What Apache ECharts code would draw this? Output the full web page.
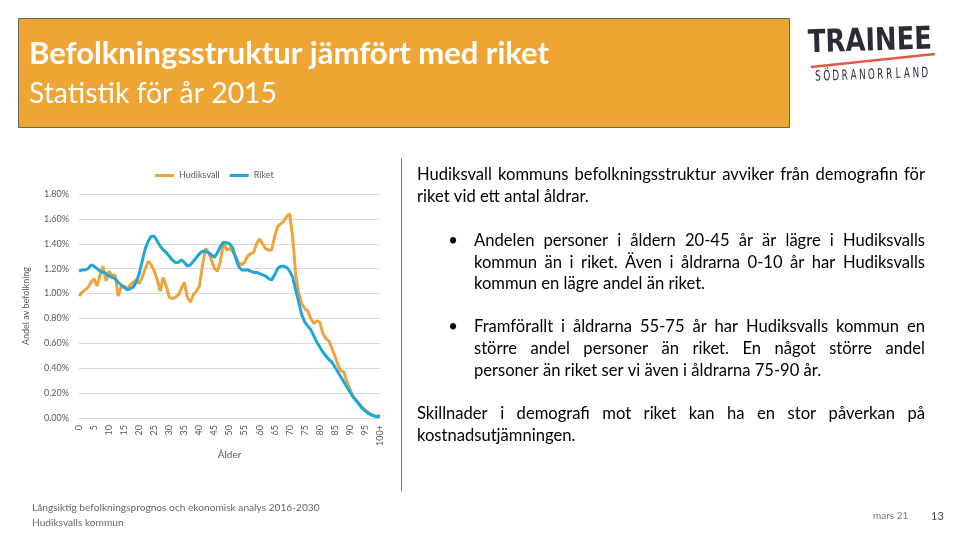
<!DOCTYPE html>
<html><head><meta charset="utf-8">
<script src="https://cdn.jsdelivr.net/npm/echarts@6/dist/echarts.min.js"></script>
<style>html,body{margin:0;padding:0;background:#fff}#c{width:960px;height:540px}</style>
</head><body><div id="c"></div>
<script>
const ages = ['0','1','2','3','4','5','6','7','8','9','10','11','12','13','14','15','16','17','18','19','20','21','22','23','24','25','26','27','28','29','30','31','32','33','34','35','36','37','38','39','40','41','42','43','44','45','46','47','48','49','50','51','52','53','54','55','56','57','58','59','60','61','62','63','64','65','66','67','68','69','70','71','72','73','74','75','76','77','78','79','80','81','82','83','84','85','86','87','88','89','90','91','92','93','94','95','96','97','98','99','100+'];
const hudiksvall = [0.98,1.01,1.03,1.05,1.09,1.12,1.06,1.15,1.22,1.10,
1.18,1.14,1.15,0.98,1.05,1.06,1.04,1.07,1.09,1.11,
1.08,1.13,1.20,1.26,1.23,1.18,1.11,1.02,1.13,1.06,
0.97,0.96,0.97,0.99,1.04,1.09,0.97,0.93,0.99,1.02,
1.06,1.22,1.36,1.33,1.27,1.20,1.18,1.26,1.42,1.35,
1.36,1.34,1.30,1.25,1.23,1.25,1.30,1.32,1.33,1.40,
1.44,1.40,1.36,1.35,1.35,1.46,1.54,1.56,1.58,1.62,
1.64,1.45,1.15,1.00,0.92,0.88,0.86,0.80,0.76,0.78,
0.77,0.68,0.64,0.62,0.56,0.50,0.43,0.38,0.37,0.29,
0.23,0.18,0.15,0.12,0.09,0.065,0.045,0.03,0.02,0.015,
0.02];
const riket = [1.18,1.19,1.19,1.20,1.23,1.22,1.20,1.18,1.17,1.16,
1.14,1.13,1.12,1.09,1.07,1.05,1.03,1.04,1.05,1.09,
1.16,1.26,1.36,1.42,1.46,1.46,1.42,1.38,1.35,1.33,
1.30,1.27,1.25,1.25,1.27,1.25,1.22,1.23,1.26,1.29,
1.32,1.34,1.34,1.33,1.31,1.29,1.33,1.38,1.41,1.41,
1.40,1.37,1.29,1.22,1.19,1.19,1.19,1.18,1.17,1.17,
1.16,1.15,1.14,1.12,1.11,1.15,1.20,1.22,1.22,1.21,
1.18,1.13,1.03,0.93,0.83,0.77,0.74,0.71,0.66,0.61,
0.57,0.53,0.50,0.47,0.45,0.41,0.37,0.33,0.29,0.25,
0.21,0.17,0.14,0.11,0.08,0.06,0.04,0.025,0.015,0.01,
0.015];
const seriesNames = ['Hudiksvall','Riket'];
const yTicks = {min:0, max:1.8, interval:0.2};

const titleText = 'Befolkningsstruktur jämfört med riket';
const subtitleText = 'Statistik för år 2015';
const para1 = ['Hudiksvall kommuns befolkningsstruktur avviker från demografin för','riket vid ett antal åldrar.'];
const bullet1 = ['Andelen personer i åldern 20-45 år är lägre i Hudiksvalls','kommun än i riket. Även i åldrarna 0-10 år har Hudiksvalls','kommun en lägre andel än riket.'];
const bullet2 = ['Framförallt i åldrarna 55-75 år har Hudiksvalls kommun en','större andel personer än riket. En något större andel','personer än riket ser vi även i åldrarna 75-90 år.'];
const para3 = ['Skillnader i demografi mot riket kan ha en stor påverkan på','kostnadsutjämningen.'];
const footer = ['Långsiktig befolkningsprognos och ekonomisk analys 2016-2030','Hudiksvalls kommun'];
const dateText = 'mars 21';
const pageNo = '13';
const logoTop = 'TRAINEE';
const logoBottom = 'SÖDRANORRLAND';

const cv = document.createElement('canvas').getContext('2d');
function measure(t, font){ cv.font = font; return cv.measureText(t).width; }
function fitSize(t, weight, family, target){ return 100*target/measure(t, weight+' 100px '+family); }

const FAM = 'Lato';
const bodySize = Math.min(17, fitSize('kommun en lägre andel än riket.', 'normal', FAM, 231));
const bodyFont = bodySize.toFixed(2)+'px '+FAM;
const g = [];
function txt(t, x, y, font, fill, align){
  g.push({type:'text', silent:true, style:{text:t, x:x, y:y, font:font, fill:fill, align:align||'left', verticalAlign:'middle'}});
}
function justify(line, x0, x1, y){
  const words = line.split(' ');
  const ws = words.map(w=>measure(w, bodyFont));
  const tot = ws.reduce((a,b)=>a+b,0);
  const gap = (x1-x0-tot)/(words.length-1);
  let x = x0;
  words.forEach((w,i)=>{ txt(w, x, y, bodyFont, '#000'); x += ws[i]+gap; });
}
function block(lines, x0, x1, ys){
  lines.forEach((l,i)=>{ if(i<lines.length-1) justify(l,x0,x1,ys[i]); else txt(l,x0,ys[i],bodyFont,'#000'); });
}

// header
g.push({type:'rect', silent:true, shape:{x:18.5,y:18.5,width:771,height:109}, style:{fill:'#EFA534', stroke:'#5d6a5c', lineWidth:1}});
const tSize = fitSize(titleText,'bold',FAM,520);
txt(titleText, 29, 54, 'bold '+tSize.toFixed(2)+'px '+FAM, '#fff');
const sSize = fitSize(subtitleText,'normal',FAM,248);
txt(subtitleText, 29, 94, sSize.toFixed(2)+'px '+FAM, '#fff');

// logo
const lw = measure(logoTop, 'bold 30px "DejaVu Sans"');
g.push({type:'text', silent:true, x:808, y:44, rotation:0.03, scaleX:124/lw, scaleY:1.05, style:{text:logoTop, x:0, y:0, font:'bold 30px "DejaVu Sans"', fill:'#2a2c38', verticalAlign:'middle', align:'left'}});
g.push({type:'line', silent:true, shape:{x1:811,y1:67,x2:935,y2:54}, style:{stroke:'#E05A47', lineWidth:2.5}});
for(let i=0;i<logoBottom.length;i++){
  const cx = 818 + i*8.9, cy = 77 - i*0.3;
  g.push({type:'text', silent:true, x:cx, y:cy, rotation:0.03, scaleX:0.8, scaleY:1.3, style:{text:logoBottom[i], x:0, y:0, font:'11px "DejaVu Sans"', fill:'#2a2c38', align:'center', verticalAlign:'middle'}});
}

// separator
g.push({type:'line', silent:true, shape:{x1:401.5,y1:158,x2:401.5,y2:491}, style:{stroke:'#5f8686', lineWidth:1}});

// body text
block(para1, 417, 925, [175, 197]);
txt('•', 453, 241, bodyFont, '#000', 'center');
block(bullet1, 474, 925, [241, 262.5, 284]);
txt('•', 453, 327, bodyFont, '#000', 'center');
block(bullet2, 474, 925, [327, 348.5, 370.5]);
block(para3, 417, 925, [413.5, 435.5]);

// footer
const fSize = fitSize(footer[0],'normal',FAM,288);
txt(footer[0], 32, 508, fSize.toFixed(2)+'px '+FAM, '#666');
txt(footer[1], 32, 523, fSize.toFixed(2)+'px '+FAM, '#666');
txt(dateText, 873, 516, '10px '+FAM, '#777');
txt(pageNo, 931, 516, '11px '+FAM, '#444');

const chart = echarts.init(document.getElementById('c'), null, {renderer:'canvas'});
chart.setOption({
  backgroundColor:'#fff',
  animation:false,
  legend:{data:seriesNames, left:150, top:166, itemWidth:19, itemHeight:3, itemGap:10, icon:'rect',
    textStyle:{fontSize:9, color:'#595959', fontFamily:FAM}},
  grid:{left:79, right:580, top:194, bottom:122, containLabel:false},
  xAxis:{type:'category', data:ages, boundaryGap:false,
    axisLine:{lineStyle:{color:'#D9D9D9'}}, axisTick:{show:false},
    axisLabel:{interval:4, rotate:90, fontSize:9, color:'#595959', margin:7, fontFamily:FAM},
    name:'Ålder', nameLocation:'middle', nameGap:29, nameTextStyle:{fontSize:10, color:'#595959', fontFamily:FAM}},
  yAxis:{type:'value', min:yTicks.min, max:yTicks.max, interval:yTicks.interval,
    axisLabel:{formatter:v=>v.toFixed(2)+'%', fontSize:9, color:'#595959', margin:10, fontFamily:FAM},
    axisLine:{show:false}, axisTick:{show:false},
    splitLine:{lineStyle:{color:'#D9D9D9'}},
    name:'Andel av befolkning', nameLocation:'middle', nameGap:48, nameRotate:90,
    nameTextStyle:{fontSize:9, color:'#595959', fontFamily:FAM}},
  series:[
    {name:seriesNames[0], type:'line', data:hudiksvall, symbol:'none', lineStyle:{width:3, color:'#EEA43A'}, itemStyle:{color:'#EEA43A'}},
    {name:seriesNames[1], type:'line', data:riket, symbol:'none', lineStyle:{width:3, color:'#1EA7D6'}, itemStyle:{color:'#1EA7D6'}}
  ],
  graphic:{elements:g}
});
</script></body></html>
